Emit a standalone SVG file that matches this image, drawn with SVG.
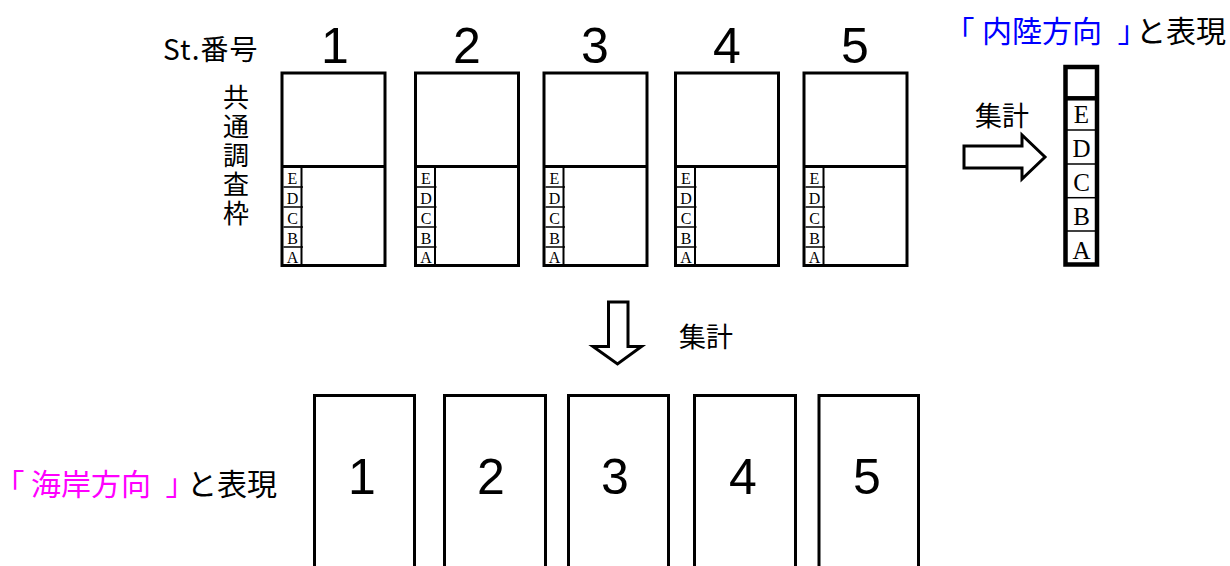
<svg xmlns="http://www.w3.org/2000/svg" width="1230" height="566" viewBox="0 0 1230 566">
<style>
.box{fill:#fff;stroke:#000;stroke-width:3}
.thick{stroke:#000;stroke-width:3}
.thin{stroke:#000;stroke-width:1.5}
.col{stroke:#000;stroke-width:2}
.num{font-family:"Liberation Sans",Arial,sans-serif;font-size:50px;fill:#000;text-anchor:middle}
.lt{font-family:"Liberation Serif","Times New Roman",serif;font-size:16px;fill:#000;text-anchor:middle}
.ltb{font-family:"Liberation Serif","Times New Roman",serif;font-size:25px;fill:#000;text-anchor:middle}
.jp{font-family:"Noto Sans CJK JP","Noto Sans",sans-serif;fill:#000}
.palt{font-feature-settings:"palt"}
.arrow{fill:#fff;stroke:#000;stroke-width:3;stroke-linejoin:miter}
</style>
<defs>
<g id="station">
<rect class="box" x="0" y="0" width="103" height="192.5"/>
<line class="thick" x1="0" y1="93.5" x2="103" y2="93.5"/>
<line class="col" x1="19.5" y1="95" x2="19.5" y2="192"/>
<line class="thin" x1="1.5" y1="114" x2="21" y2="114"/>
<line class="thin" x1="1.5" y1="134" x2="21" y2="134"/>
<line class="thin" x1="1.5" y1="154" x2="21" y2="154"/>
<line class="thin" x1="1.5" y1="174" x2="21" y2="174"/>
<text class="lt" x="10.5" y="110.5">E</text>
<text class="lt" x="10.5" y="130.5">D</text>
<text class="lt" x="10.5" y="150.5">C</text>
<text class="lt" x="10.5" y="170.5">B</text>
<text class="lt" x="10.5" y="190">A</text>
</g>
</defs>

<g id="header">
<text class="jp" x="163" y="60" font-size="28" letter-spacing="1">St.番号</text>
<text class="jp" x="236" y="84" font-size="26" writing-mode="vertical-rl" letter-spacing="3">共通調査枠</text>
</g>

<g id="st1"><text class="num" x="335" y="63">1</text><use href="#station" x="282" y="73"/></g>
<g id="st2"><text class="num" x="467" y="63">2</text><use href="#station" x="415.5" y="73"/></g>
<g id="st3"><text class="num" x="595" y="63">3</text><use href="#station" x="544" y="73"/></g>
<g id="st4"><text class="num" x="727" y="63">4</text><use href="#station" x="675.5" y="73"/></g>
<g id="st5"><text class="num" x="855" y="63">5</text><use href="#station" x="804" y="73"/></g>

<g id="inland">
<text class="jp" y="42" font-size="30"><tspan class="palt" fill="#0000ff" x="959">「</tspan><tspan fill="#0000ff" x="982">内陸方向</tspan><tspan class="palt" fill="#0000ff" x="1118">」</tspan><tspan x="1136">と表現</tspan></text>
<rect x="1065.5" y="67" width="31.5" height="197.5" fill="#fff" stroke="#000" stroke-width="4.5"/>
<line x1="1065.5" y1="98.3" x2="1097" y2="98.3" stroke="#000" stroke-width="4.5"/>
<line class="thin" x1="1066" y1="130" x2="1097" y2="130"/>
<line class="thin" x1="1066" y1="164" x2="1097" y2="164"/>
<line class="thin" x1="1066" y1="197.7" x2="1097" y2="197.7"/>
<line class="thin" x1="1066" y1="231" x2="1097" y2="231"/>
<text class="ltb" x="1081.5" y="123">E</text>
<text class="ltb" x="1081.5" y="157">D</text>
<text class="ltb" x="1081.5" y="191">C</text>
<text class="ltb" x="1081.5" y="224.5">B</text>
<text class="ltb" x="1081.5" y="258.5">A</text>
</g>

<g id="coastal">
<text class="jp" y="495" font-size="30"><tspan class="palt" fill="#ff00ff" x="9">「</tspan><tspan fill="#ff00ff" x="31">海岸方向</tspan><tspan class="palt" fill="#ff00ff" x="166">」</tspan><tspan x="187">と表現</tspan></text>
</g>

<g id="c1"><path class="box" d="M314.5 570 V395.5 H414.5 V570"/><text class="num" x="362" y="494">1</text></g>
<g id="c2"><path class="box" d="M444.5 570 V395.5 H545.5 V570"/><text class="num" x="491" y="494">2</text></g>
<g id="c3"><path class="box" d="M568.5 570 V395.5 H668.5 V570"/><text class="num" x="615" y="494">3</text></g>
<g id="c4"><path class="box" d="M694.5 570 V395.5 H795.5 V570"/><text class="num" x="743" y="494">4</text></g>
<g id="c5"><path class="box" d="M819 570 V395.5 H918.5 V570"/><text class="num" x="867" y="494">5</text></g>

<g id="connectors">
<polygon class="arrow" points="964,146 1022,146 1022,135 1045,157 1022,179 1022,168 964,168"/>
<text class="jp" x="975" y="126" font-size="27">集計</text>
<polygon class="arrow" points="608.5,302 628,302 628,346.5 641.5,346.5 617.5,364 593,346.5 608.5,346.5"/>
<text class="jp" x="679" y="347" font-size="27">集計</text>
</g>
</svg>
